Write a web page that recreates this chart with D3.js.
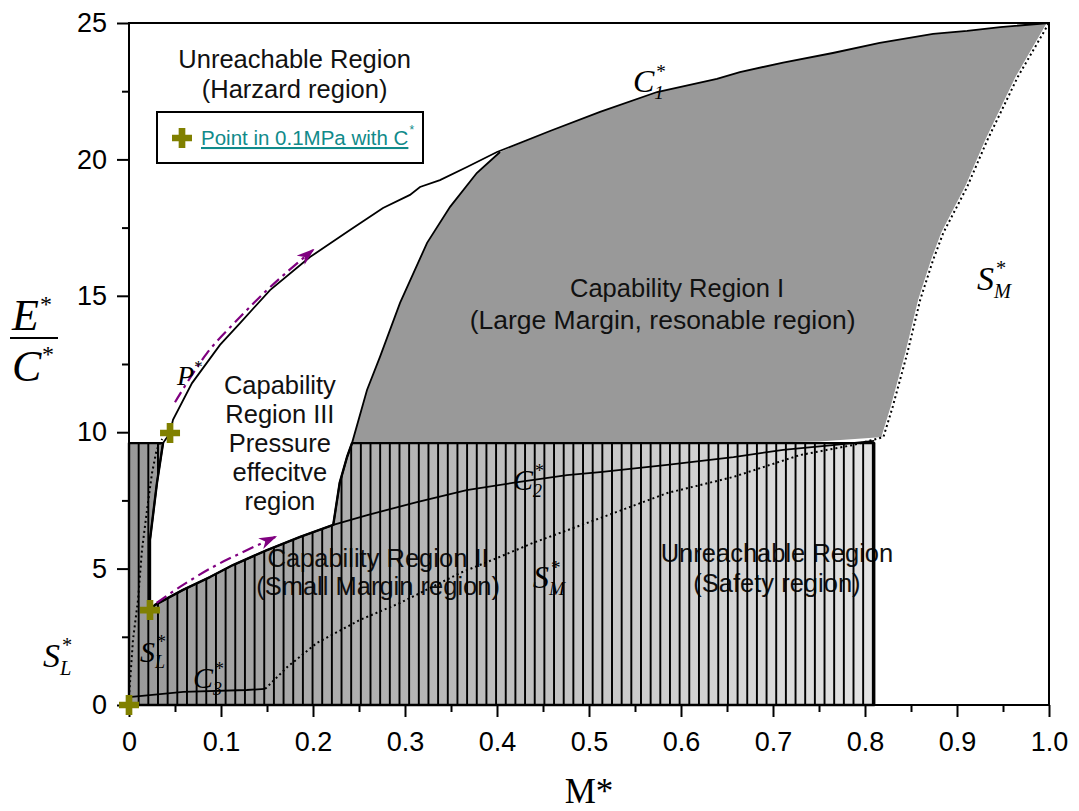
<!DOCTYPE html>
<html>
<head>
<meta charset="utf-8">
<script src="https://cdn.jsdelivr.net/npm/d3@7"></script>
<style>
body { margin: 0; background: #fff; }
text { font-family: "Liberation Sans", Arial, sans-serif; }
.serif { font-family: "Liberation Serif", "Times New Roman", serif; }
</style>
</head>
<body>
<svg id="chart" width="1079" height="811"></svg>
<script>
// ticks
const xTickValues = [0, 0.1, 0.2, 0.3, 0.4, 0.5, 0.6, 0.7, 0.8, 0.9, 1.0];
const xTickLabels = ["0", "0.1", "0.2", "0.3", "0.4", "0.5", "0.6", "0.7", "0.8", "0.9", "1.0"];
const xMinorTicks = [0.05, 0.15, 0.25, 0.35, 0.45, 0.55, 0.65, 0.75, 0.85, 0.95];
const yTickValues = [0, 5, 10, 15, 20, 25];
const yTickLabels = ["0", "5", "10", "15", "20", "25"];
const yMinorTicks = [2.5, 7.5, 12.5, 17.5, 22.5];

// C1* (upper capability curve)
const c1M = [0.0228, 0.0304, 0.037, 0.0446, 0.0478, 0.0685, 0.0989, 0.1207, 0.1533, 0.1967, 0.2402, 0.2761, 0.3054, 0.3163, 0.338, 0.3674, 0.4, 0.4576, 0.512, 0.574, 0.639, 0.664, 0.711, 0.765, 0.816, 0.874, 0.911, 0.947, 1.0];
const c1E = [6.05, 8.14, 9.6, 9.97, 10.45, 11.8, 13.2, 14.0, 15.21, 16.42, 17.41, 18.22, 18.7, 18.99, 19.24, 19.72, 20.27, 21.04, 21.74, 22.47, 22.95, 23.2, 23.55, 23.9, 24.27, 24.6, 24.71, 24.85, 25.0];

// C2*
const c2M = [0.0228, 0.0283, 0.0587, 0.088, 0.113, 0.15, 0.186, 0.222, 0.259, 0.313, 0.367, 0.417, 0.476, 0.512, 0.585, 0.657, 0.711, 0.765, 0.81];
const c2E = [3.48, 3.67, 4.22, 4.69, 5.13, 5.68, 6.16, 6.6, 6.96, 7.44, 7.88, 8.14, 8.43, 8.54, 8.8, 9.09, 9.35, 9.53, 9.68];

// C3*
const c3M = [0, 0.059, 0.128, 0.148];
const c3E = [0.29, 0.48, 0.55, 0.59];

// S_M* (dotted)
const smM = [0.148, 0.172, 0.204, 0.251, 0.2946, 0.36, 0.403, 0.439, 0.512, 0.585, 0.657, 0.729, 0.787, 0.82, 0.83, 0.846, 0.86, 0.874, 0.885, 0.911, 0.933, 0.966, 1.0];
const smE = [0.59, 1.39, 2.27, 3.12, 3.74, 4.84, 5.43, 5.94, 6.85, 7.77, 8.36, 9.16, 9.53, 9.82, 10.92, 12.9, 14.85, 16.31, 17.3, 18.99, 20.71, 23.02, 25.0];

// S_L* (dotted)
const slM = [0, 0.0043, 0.0098, 0.0141, 0.0196, 0.025, 0.03, 0.036];
const slE = [0.29, 2.38, 3.85, 5.68, 7.15, 8.5, 9.35, 9.75];

// left edge of capability region I
const r1M = [0.222, 0.229, 0.237, 0.2424, 0.2587, 0.2728, 0.2946, 0.324, 0.349, 0.378, 0.4033];
const r1E = [6.6, 8.14, 9.09, 9.6, 11.55, 12.76, 14.74, 16.94, 18.26, 19.5, 20.27];
const r1BottomM = [0.75, 0.65];
const r1BottomE = [9.66, 9.6];

// hatched region limits
const hatchRight = 0.81;
const hatchTop = 9.6;

// points in 0.1MPa with C*
const pointM = [0, 0.0228, 0.0446];
const pointE = [0, 3.48, 9.97];

// purple arrows
const arrowPM = [0.05, 0.0848, 0.1207, 0.15, 0.1717, 0.2];
const arrowPE = [11.1, 12.9, 14.22, 15.21, 15.87, 16.68];
const arrowCM = [0.03, 0.0554, 0.0913, 0.124, 0.159];
const arrowCE = [3.74, 4.33, 5.06, 5.61, 6.16];

const zip = (a, b) => a.map((v, i) => [v, b[i]]);

var svg = d3.select('#chart');
var x = d3.scaleLinear().domain([0, 1]).range([129, 1049]);
var y = d3.scaleLinear().domain([0, 25]).range([705, 23]);
var line = d3.line().x(d => x(d[0])).y(d => y(d[1]));

var defs = svg.append('defs');
var grad = defs.append('linearGradient')
    .attr('id', 'shade').attr('gradientUnits', 'userSpaceOnUse')
    .attr('x1', x(0)).attr('x2', x(hatchRight)).attr('y1', 0).attr('y2', 0);
grad.append('stop').attr('offset', 0).attr('stop-color', '#999999');
grad.append('stop').attr('offset', 1).attr('stop-color', '#e3e3e3');

var step = x(0.0105) - x(0);
var pat = defs.append('pattern')
    .attr('id', 'hatch').attr('patternUnits', 'userSpaceOnUse')
    .attr('x', x(0) - step / 2).attr('y', 0)
    .attr('width', step).attr('height', 20);
pat.append('line').attr('x1', step / 2).attr('x2', step / 2).attr('y1', 0).attr('y2', 20)
    .attr('stroke', '#000').attr('stroke-width', 2).attr('shape-rendering', 'crispEdges');

defs.append('marker')
    .attr('id', 'arrow').attr('markerUnits', 'userSpaceOnUse')
    .attr('markerWidth', 18).attr('markerHeight', 14)
    .attr('refX', 16).attr('refY', 7).attr('orient', 'auto')
    .append('path').attr('d', 'M0,1 L18,7 L0,13 L5,7 Z').attr('fill', '#800080');

// capability region I polygon
var region1 = zip(r1M, r1E).slice(3)
    .concat(zip(c1M, c1E).filter(d => d[0] > 0.41))
    .concat(zip(smM, smE).filter(d => d[0] >= 0.82).reverse())
    .concat(zip(r1BottomM, r1BottomE));
svg.append('path').attr('d', line(region1) + 'Z').attr('fill', '#999999');

// hatched region (II + safety), with region III cut out
var hatched = [[0, 0], [hatchRight, 0], [hatchRight, hatchTop]]
    .concat(zip(r1M, r1E).slice(0, 4).reverse())
    .concat(zip(c2M, c2E).filter(d => d[0] < 0.222).reverse())
    .concat(zip(c1M, c1E).filter(d => d[1] <= hatchTop))
    .concat([[0, hatchTop]]);
svg.append('path').attr('d', line(hatched) + 'Z').attr('fill', 'url(#shade)');

// texts sitting under the hatch
function block(lines, m, e, gap, size) {
    var t = svg.append('text').attr('text-anchor', 'middle').attr('font-size', size).attr('fill', '#111');
    lines.forEach((s, i) => {
        t.append('tspan').attr('x', x(m)).attr('y', y(e) + i * gap).text(s);
    });
}
block(['Capability Region II', '(Small Margin region)'], 0.2707, 5.06, 28, 25.5);
block(['Unreachable Region', '(Safety region)'], 0.7043, 5.24, 30, 25.5);

svg.append('path').attr('d', line(hatched) + 'Z').attr('fill', 'url(#hatch)');
svg.append('path').attr('d', line(hatched) + 'Z').attr('fill', 'none')
    .attr('stroke', '#000').attr('stroke-width', 2.4).attr('stroke-linejoin', 'round');

// dotted boundaries
var smUpper = zip(smM, smE).filter(d => d[0] >= 0.82);
svg.append('path').attr('d', line(smUpper)).attr('fill', 'none').attr('stroke', '#fff').attr('stroke-width', 4);
svg.append('path').attr('d', line(zip(smM, smE))).attr('fill', 'none')
    .attr('stroke', '#000').attr('stroke-width', 2).attr('stroke-dasharray', '2,3');
svg.append('path').attr('d', line(zip(slM, slE))).attr('fill', 'none')
    .attr('stroke', '#000').attr('stroke-width', 2).attr('stroke-dasharray', '2,3');

// solid curves
[zip(c1M, c1E), zip(c2M, c2E), zip(c3M, c3E), zip(r1M, r1E)].forEach(p => {
    svg.append('path').attr('d', line(p)).attr('fill', 'none')
        .attr('stroke', '#000').attr('stroke-width', 1.8);
});

// arrows
[zip(arrowPM, arrowPE), zip(arrowCM, arrowCE)].forEach(p => {
    svg.append('path').attr('d', line.curve(d3.curveCatmullRom)(p)).attr('fill', 'none')
        .attr('stroke', '#800080').attr('stroke-width', 2.2)
        .attr('stroke-dasharray', '12,5,3,5').attr('marker-end', 'url(#arrow)');
});
line.curve(d3.curveLinear);

// axes
var xAxis = d3.axisBottom(x).tickValues(xTickValues).tickFormat((d, i) => xTickLabels[i]).tickSize(12).tickPadding(15);
var xMinor = d3.axisBottom(x).tickValues(xMinorTicks).tickFormat('').tickSize(7);
var yAxis = d3.axisLeft(y).tickValues(yTickValues).tickFormat((d, i) => yTickLabels[i]).tickSize(12).tickPadding(10);
var yMinor = d3.axisLeft(y).tickValues(yMinorTicks).tickFormat('').tickSize(7);

[[xAxis, 'translate(0,' + y(0) + ')'], [xMinor, 'translate(0,' + y(0) + ')'],
 [yAxis, 'translate(' + x(0) + ',0)'], [yMinor, 'translate(' + x(0) + ',0)']].forEach(a => {
    var g = svg.append('g').attr('transform', a[1]).call(a[0]);
    g.select('.domain').remove();
    g.selectAll('line').attr('stroke', '#000').attr('stroke-width', 2);
    g.selectAll('text').attr('font-size', 27).attr('fill', '#000')
        .attr('font-family', '"Liberation Sans", Arial, sans-serif');
});

svg.append('rect')
    .attr('x', x(0)).attr('y', y(25))
    .attr('width', x(1) - x(0)).attr('height', y(0) - y(25))
    .attr('fill', 'none').attr('stroke', '#000').attr('stroke-width', 2);

// plus markers
var cross = d3.symbol().type(d3.symbolCross).size(222);
svg.selectAll('.pt').data(zip(pointM, pointE)).enter().append('path')
    .attr('class', 'pt')
    .attr('transform', d => 'translate(' + x(d[0]) + ',' + y(d[1]) + ')')
    .attr('d', cross).attr('fill', '#808000');

// region texts
block(['Unreachable Region', '(Harzard region)'], 0.18, 23.35, 30, 25.5);
block(['Capability Region I'], 0.5957, 14.96, 0, 25.5);
block(['(Large Margin, resonable region)'], 0.58, 13.78, 0, 26.5);
block(['Capability', 'Region III', 'Pressure', 'effecitve', 'region'], 0.164, 11.4, 29, 25.5);

// math labels: main italic letter with sub and superscript
function mathLabel(m, e, main, sub, size) {
    var px = x(m), py = y(e);
    var t = svg.append('text').attr('class', 'serif').attr('x', px).attr('y', py)
        .attr('font-size', size).attr('font-style', 'italic').text(main);
    var w = t.node().getComputedTextLength();
    if (sub) {
        svg.append('text').attr('class', 'serif').attr('x', px + w).attr('y', py + size * 0.22)
            .attr('font-size', size * 0.6).attr('font-style', 'italic').text(sub);
    }
    svg.append('text').attr('class', 'serif').attr('x', px + w + (sub ? 2 : 0)).attr('y', py - size * 0.45)
        .attr('font-size', size * 0.6).text('*');
}
mathLabel(0.5478, 22.47, 'C', '1', 32);
mathLabel(0.4174, 7.88, 'C', '2', 30);
mathLabel(0.0696, 0.62, 'C', '3', 30);
mathLabel(0.9217, 15.21, 'S', 'M', 34);
mathLabel(0.4391, 4.29, 'S', 'M', 32);
mathLabel(-0.0935, 1.39, 'S', 'L', 34);
mathLabel(0.012, 1.58, 'S', 'L', 30);
mathLabel(0.0522, 11.73, 'P', '', 28);

// legend
var lg = svg.append('g').attr('transform', 'translate(157,112)');
lg.append('rect').attr('width', 266).attr('height', 51).attr('fill', '#fff')
    .attr('stroke', '#000').attr('stroke-width', 2);
lg.append('path').attr('transform', 'translate(25,26)').attr('d', cross).attr('fill', '#808000');
var lt = lg.append('text').attr('x', 44).attr('y', 33).attr('font-size', 20.5)
    .attr('fill', '#108a8a').attr('text-decoration', 'underline')
    .text('Point in 0.1MPa with C');
var lw = lt.node().getComputedTextLength();
lg.append('text').attr('x', 44 + lw + 1).attr('y', 22).attr('font-size', 12)
    .attr('fill', '#108a8a').text('*');

// axis titles
svg.append('text').attr('class', 'serif').attr('x', 589).attr('y', 803)
    .attr('text-anchor', 'middle').attr('font-size', 35).text('M*');
svg.append('text').attr('class', 'serif').attr('x', 12).attr('y', 330)
    .attr('font-size', 44).attr('font-style', 'italic').text('E');
svg.append('text').attr('class', 'serif').attr('x', 40).attr('y', 312)
    .attr('font-size', 24).text('*');
svg.append('line').attr('x1', 10).attr('x2', 58).attr('y1', 338).attr('y2', 338)
    .attr('stroke', '#000').attr('stroke-width', 2);
svg.append('text').attr('class', 'serif').attr('x', 12).attr('y', 381)
    .attr('font-size', 44).attr('font-style', 'italic').text('C');
svg.append('text').attr('class', 'serif').attr('x', 42).attr('y', 362)
    .attr('font-size', 24).text('*');
</script>
</body>
</html>
